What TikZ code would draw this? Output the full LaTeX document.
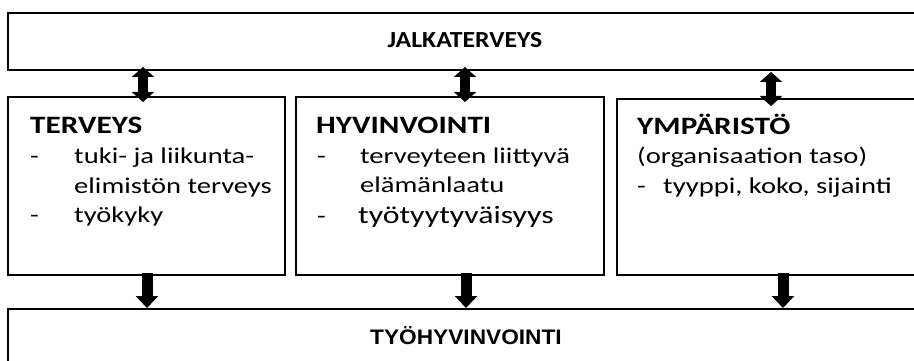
\documentclass[tikz,border=0pt]{standalone}
\usepackage{fontspec}
\setmainfont{Carlito}
\newfontfamily\fb{Carlito}[FakeStretch=1.27]
\newfontfamily\fh{Carlito}[FakeStretch=1.25]
\newfontfamily\fj{Carlito}[FakeStretch=1.12]
\newfontfamily\arialfont{Liberation Sans}[FakeStretch=1.08]
\usetikzlibrary{arrows.meta}
\tikzset{
  box/.style={draw=black, line width=1.1pt},
  lbl/.style={anchor=base west, inner sep=0pt},
  ttl/.style={anchor=base, inner sep=0pt},
  dblarrow/.style={line width=10pt, {Triangle[width=22pt,length=10pt]}-{Triangle[width=22pt,length=10pt]}},
  downarrow/.style={line width=11pt, -{Triangle[width=22pt,length=12pt]}}
}
\newcommand{\hdF}{\fh\fontsize{25}{29}\selectfont\bfseries}
\newcommand{\txF}{\fb\fontsize{22.5}{27}\selectfont}
\begin{document}
\begin{tikzpicture}[x=1pt,y=-1pt]
\useasboundingbox (0,0) rectangle (914,361);
\clip (0,0) rectangle (914,361);
% boxes
\draw[box] (8,13) rectangle (930,70);
\draw[box] (8,97) rectangle (285,275);
\draw[box] (296,97) rectangle (604,275);
\draw[box] (617,99) rectangle (930,275);
\draw[box] (8,309) rectangle (930,380);
% titles
\node[ttl, font=\fj\fontsize{23}{27}\selectfont\bfseries] (jalka) at (465,48) {JALKATERVEYS};
\node[ttl, font=\arialfont\fontsize{21}{25}\selectfont\bfseries] (tyoh) at (466,344) {TYÖHYVINVOINTI};
% box 1
\node[lbl, font=\hdF] (h1) at (30,134) {TERVEYS};
\node[lbl, font=\txF] (d11) at (30,164) {-};
\node[lbl, font=\txF] (t11) at (74,164) {tuki- ja liikunta-};
\node[lbl, font=\txF] (t12) at (74,193) {elimistön terveys};
\node[lbl, font=\txF] (d12) at (30,222) {-};
\node[lbl, font=\txF] (t13) at (74,222) {työkyky};
% box 2
\node[lbl, font=\hdF] (h2) at (316,134) {HYVINVOINTI};
\node[lbl, font=\txF] (d21) at (317,164) {-};
\node[lbl, font=\txF] (t21) at (360,164) {terveyteen liittyvä};
\node[lbl, font=\txF] (t22) at (360,192) {elämänlaatu};
\node[lbl, font=\txF] (d22) at (317,223) {-};
\node[lbl, font=\fb\fontsize{25}{29}\selectfont] (t23) at (358,223) {työtyytyväisyys};
% box 3
\node[lbl, font=\hdF] (h3) at (637,135) {YMPÄRISTÖ};
\node[lbl, font=\txF] (t31) at (637,164) {(organisaation taso)};
\node[lbl, font=\txF] (d31) at (637,193) {-};
\node[lbl, font=\txF] (t32) at (663,193) {tyyppi, koko, sijainti};
% arrows
\coordinate (u1a) at (143,67);  \coordinate (u1b) at (143,102);
\coordinate (u2a) at (465,67);  \coordinate (u2b) at (465,102);
\coordinate (u3a) at (771,72);  \coordinate (u3b) at (771,106);
\draw[dblarrow] (u1a) -- (u1b);
\draw[dblarrow] (u2a) -- (u2b);
\draw[dblarrow] (u3a) -- (u3b);
\coordinate (d1a) at (147,273); \coordinate (d1b) at (147,308);
\coordinate (d2a) at (466,273); \coordinate (d2b) at (466,308);
\coordinate (d3a) at (783,273); \coordinate (d3b) at (783,308);
\draw[downarrow] (d1a) -- (d1b);
\draw[downarrow] (d2a) -- (d2b);
\draw[downarrow] (d3a) -- (d3b);
\end{tikzpicture}
\end{document}
